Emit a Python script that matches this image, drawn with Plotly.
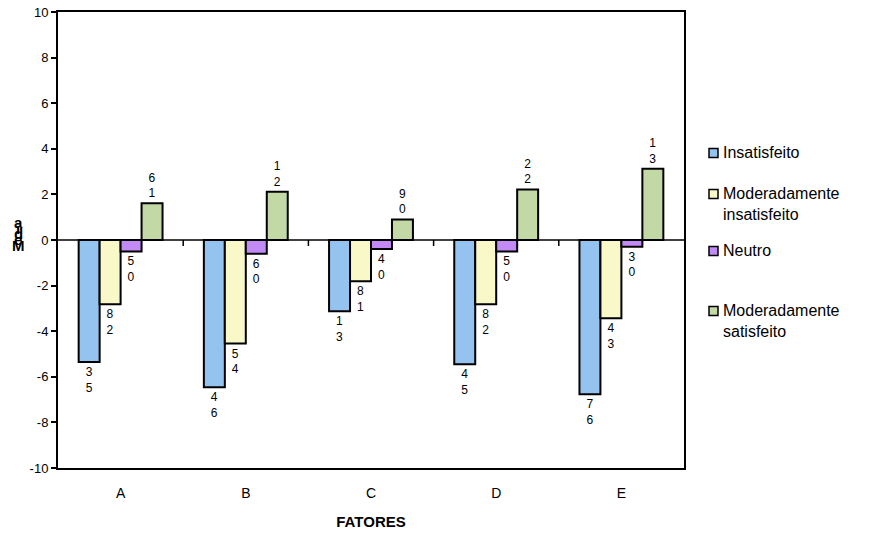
import plotly.graph_objects as go

# Categories and series values
fatores = ["A", "B", "C", "D", "E"]
insatisfeito = [-5.35, -6.46, -3.13, -5.45, -6.76]
mod_insatisfeito = [-2.82, -4.54, -1.81, -2.82, -3.43]
neutro = [-0.50, -0.60, -0.40, -0.50, -0.30]
mod_satisfeito = [1.61, 2.12, 0.90, 2.22, 3.13]

series_names = ["Insatisfeito", "Moderadamente<br>insatisfeito", "Neutro",
                "Moderadamente<br>satisfeito"]
series_values = [insatisfeito, mod_insatisfeito, neutro, mod_satisfeito]
series_colors = ["#95C3F0", "#F8F8C8", "#C28AF5", "#C3D9A5"]

y_ticks = [-10, -8, -6, -4, -2, 0, 2, 4, 6, 8, 10]

FONT = "Arial, Liberation Sans, sans-serif"

# plot area in pixels (used for the hand-placed legend and axis title)
PX_L, PX_R, PX_T, PX_B = 58, 684, 12, 468


def px_to_paper(px, py):
    return (px - PX_L) / (PX_R - PX_L), (PX_B - py) / (PX_B - PX_T)


def digit_label(v):
    # the label shows the two decimal digits, stacked vertically
    s = f"{abs(v):.2f}".split(".")[1]
    return f"{s[0]}<br>{s[1]}"


fig = go.Figure()
for i, (name, vals, col) in enumerate(zip(series_names, series_values, series_colors)):
    fig.add_trace(go.Bar(
        x=list(range(len(fatores))), y=vals, name=name,
        marker=dict(color=col, line=dict(color="black", width=2)),
        text=[digit_label(v) for v in vals],
        textposition="outside",
        textfont=dict(family=FONT, size=12, color="black"),
        outsidetextfont=dict(family=FONT, size=12, color="black"),
        cliponaxis=False,
        showlegend=False,
    ))

# zero line with tick marks at the category boundaries
shapes = [dict(type="line", xref="x", yref="y", x0=-0.5, x1=len(fatores) - 0.5,
               y0=0, y1=0, line=dict(color="black", width=1.5), layer="above")]
for k in range(1, len(fatores)):
    shapes.append(dict(type="line", xref="x", yref="y", ysizemode="pixel", yanchor=0,
                       x0=k - 0.5, x1=k - 0.5, y0=0, y1=-6,
                       line=dict(color="black", width=1.5)))

annotations = []

# vertical axis title, letters stacked tightly
title_chars = [("a", 222), ("i", 228), ("d", 233), ("e", 239), ("M", 246)]
for c, py in title_chars:
    xp, yp = px_to_paper(18, py)
    annotations.append(dict(text=f"<b>{c}</b>", xref="paper", yref="paper", x=xp, y=yp,
                            showarrow=False, font=dict(family=FONT, size=15, color="black"),
                            xanchor="center", yanchor="middle"))

# legend: small framed squares with the series names
legend_rows = [153, 194, 251, 311]
for name, col, py in zip(series_names, series_colors, legend_rows):
    x0, y0 = px_to_paper(709, py - 4.5)
    x1, y1 = px_to_paper(718, py + 4.5)
    shapes.append(dict(type="rect", xref="paper", yref="paper", x0=x0, x1=x1, y0=y0, y1=y1,
                       fillcolor=col, line=dict(color="black", width=1.5)))
    xt, yt = px_to_paper(721, py - 11)
    annotations.append(dict(text=name, xref="paper", yref="paper", x=xt, y=yt,
                            xanchor="left", yanchor="top", align="left", showarrow=False,
                            font=dict(family=FONT, size=16, color="black")))

fig.update_layout(
    width=872, height=536,
    margin=dict(l=PX_L, r=872 - PX_R, t=PX_T, b=536 - PX_B),
    paper_bgcolor="white", plot_bgcolor="white",
    barmode="group", bargap=0.33, bargroupgap=0,
    font=dict(family=FONT, size=12, color="black"),
    showlegend=False,
    shapes=shapes,
    annotations=annotations,
    xaxis=dict(
        tickmode="array", tickvals=list(range(len(fatores))), ticktext=fatores,
        range=[-0.5, len(fatores) - 0.5], automargin=False,
        showline=True, linecolor="black", linewidth=2, mirror=True,
        ticks="", showgrid=False, zeroline=False,
        tickfont=dict(family=FONT, size=14), ticklabelstandoff=11,
        title=dict(text="<b>FATORES</b>", font=dict(family=FONT, size=15), standoff=17),
    ),
    yaxis=dict(
        range=[-10, 10], tickmode="array", tickvals=y_ticks,
        ticktext=[str(t) for t in y_ticks], automargin=False,
        showline=True, linecolor="black", linewidth=2, mirror=True,
        ticks="outside", ticklen=5, tickwidth=1.5, tickcolor="black",
        showgrid=False, zeroline=False,
        tickfont=dict(family=FONT, size=13),
    ),
)

fig.write_html("out.html")
